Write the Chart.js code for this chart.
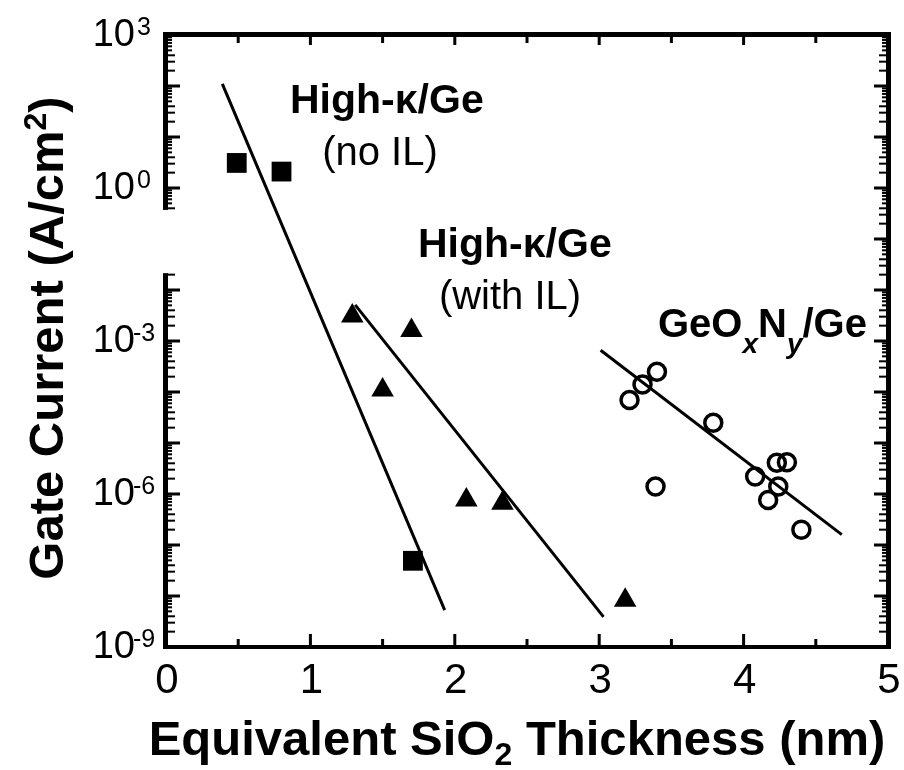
<!DOCTYPE html>
<html>
<head>
<meta charset="utf-8">
<script src="https://cdn.jsdelivr.net/npm/chart.js@4.4.0/dist/chart.umd.min.js"></script>
<style>
  html, body { margin: 0; padding: 0; background: #fff; }
  #wrap { width: 904px; height: 770px; }
</style>
</head>
<body>
<div id="wrap"><canvas id="chart" width="904" height="770"></canvas></div>
<script>
// measured data (x = EOT in nm, y = gate current in A/cm2)
var noIL_x = [0.49, 0.80, 1.71];
var noIL_y = [3.1, 2.1, 4.9e-8];
var withIL_x = [1.29, 1.50, 1.70, 2.08, 2.33, 3.18];
var withIL_y = [3.1e-3, 1.1e-4, 1.6e-3, 7.6e-7, 6.6e-7, 8.3e-9];
var geon_x = [3.21, 3.30, 3.40, 3.79, 3.39, 4.08, 4.23, 4.30, 4.24, 4.17, 4.40];
var geon_y = [7.0e-5, 1.4e-4, 2.5e-4, 2.5e-5, 1.4e-6, 2.2e-6, 4.1e-6, 4.2e-6, 1.4e-6, 7.6e-7, 2.0e-7];

// fitted lines, end points
var fitNoIL_x = [0.39, 1.93];
var fitNoIL_y = [110, 5.3e-9];
var fitWithIL_x = [1.31, 3.03];
var fitWithIL_y = [5.1e-3, 3.9e-9];
var fitGeon_x = [3.01, 4.68];
var fitGeon_y = [6.6e-4, 1.6e-7];

// ticks
var xTickLabels = ["0", "1", "2", "3", "4", "5"];
var xTicks = [0, 1, 2, 3, 4, 5];
var yTickExps = [3, 0, -3, -6, -9];

var FONT = '"Liberation Sans", Arial, Helvetica, sans-serif';

function pts(xs, ys) {
  return xs.map(function (x, i) { return { x: x, y: ys[i] }; });
}

function fitLine(xs, ys) {
  return {
    data: pts(xs, ys),
    showLine: true,
    borderColor: "#000",
    borderWidth: 3,
    pointRadius: 0,
    fill: false
  };
}

// draws runs of text with different fonts / baseline shifts
function runsWidth(ctx, runs) {
  var w = 0;
  runs.forEach(function (r) { ctx.font = r.font; w += ctx.measureText(r.t).width; });
  return w;
}
function drawRuns(ctx, runs, x, y) {
  runs.forEach(function (r) {
    ctx.font = r.font;
    ctx.fillText(r.t, x, y + (r.dy || 0));
    x += ctx.measureText(r.t).width;
  });
}

var framePlugin = {
  id: "frame",
  afterDraw: function (chart) {
    var ctx = chart.ctx;
    var a = chart.chartArea;
    var xs = chart.scales.x, ys = chart.scales.y;
    ctx.save();
    ctx.fillStyle = "#000";
    ctx.strokeStyle = "#000";

    // broken part of the left axis
    var gapTop = ys.getPixelForValue(Math.pow(10, -0.43));
    var gapBot = ys.getPixelForValue(Math.pow(10, -1.67));
    function inGap(py) { return py > gapTop - 1 && py < gapBot + 1; }

    // frame
    ctx.fillRect(a.left - 3, a.top - 2, 5, gapTop - a.top + 2);
    ctx.fillRect(a.left - 3, gapBot, 5, a.bottom - gapBot + 2);
    ctx.fillRect(a.right - 2, a.top - 2, 5, a.bottom - a.top + 4);
    ctx.fillRect(a.left - 3, a.top - 3, a.right - a.left + 6, 5);
    ctx.fillRect(a.left - 3, a.bottom - 2, a.right - a.left + 6, 4);

    // y ticks (inward)
    for (var e = -9; e <= 3; e++) {
      for (var m = 1; m <= 9; m++) {
        var v = m * Math.pow(10, e);
        if (v > 1e3 * 1.0001) continue;
        var py = ys.getPixelForValue(v);
        var len = m === 1 ? 14 : (m <= 4 ? 9 : 6);
        var lw = m === 1 ? 3 : 2;
        if (!inGap(py)) ctx.fillRect(a.left, py - lw / 2, len, lw);
        ctx.fillRect(a.right - len, py - lw / 2, len, lw);
      }
    }
    // x ticks (inward)
    for (var t = 0.5; t < 5; t += 0.5) {
      var px = xs.getPixelForValue(t);
      var major = Math.abs(t - Math.round(t)) < 1e-6;
      ctx.fillRect(px - 1.5, a.bottom - (major ? 13 : 8), 3, major ? 13 : 8);
      ctx.fillRect(px - 1.5, a.top, 3, major ? 10 : 8);
    }

    // x tick labels
    ctx.textAlign = "center";
    ctx.textBaseline = "alphabetic";
    ctx.font = "42px " + FONT;
    xTicks.forEach(function (t, i) {
      ctx.fillText(xTickLabels[i], xs.getPixelForValue(t) + 1, 693);
    });

    // y tick labels 10^n
    yTickExps.forEach(function (n) {
      var py = ys.getPixelForValue(Math.pow(10, n));
      ctx.textAlign = "right";
      ctx.textBaseline = "middle";
      ctx.font = "38px " + FONT;
      ctx.fillText("10", 135, py + 1);
      ctx.textAlign = "left";
      ctx.textBaseline = "alphabetic";
      ctx.font = "25px " + FONT;
      ctx.fillText(String(n), n < 0 ? 133 : 137, py);
    });

    ctx.textAlign = "left";
    ctx.textBaseline = "alphabetic";

    // x axis title
    var xt = [
      { t: "Equivalent SiO", font: "bold 49px " + FONT },
      { t: "2", font: "bold 32px " + FONT, dy: 10 },
      { t: " Thickness (nm)", font: "bold 49px " + FONT }
    ];
    var xw = runsWidth(ctx, xt);
    drawRuns(ctx, xt, 517 - xw / 2, 755);

    // y axis title
    var yt = [
      { t: "Gate Current (A/cm", font: "bold 49px " + FONT },
      { t: "2", font: "bold 32px " + FONT, dy: -17 },
      { t: ")", font: "bold 49px " + FONT }
    ];
    ctx.save();
    ctx.translate(63, 338);
    ctx.rotate(-Math.PI / 2);
    var yw = runsWidth(ctx, yt);
    drawRuns(ctx, yt, -yw / 2, 0);
    ctx.restore();

    // annotations
    ctx.font = "bold 41px " + FONT;
    ctx.fillText("High-\u03ba/Ge", 290, 113);
    ctx.fillText("High-\u03ba/Ge", 418, 257);
    ctx.textAlign = "center";
    ctx.font = "40px " + FONT;
    ctx.fillText("(no IL)", 380, 165);
    ctx.fillText("(with IL)", 510, 309);
    ctx.textAlign = "left";
    drawRuns(ctx, [
      { t: "GeO", font: "bold 40px " + FONT },
      { t: "x", font: "italic bold 28px " + FONT, dy: 16 },
      { t: "N", font: "bold 40px " + FONT },
      { t: "y", font: "italic bold 28px " + FONT, dy: 16 },
      { t: "/Ge", font: "bold 40px " + FONT }
    ], 658, 337);

    ctx.restore();
  }
};

new Chart(document.getElementById("chart"), {
  type: "scatter",
  data: {
    datasets: [
      {
        data: pts(noIL_x, noIL_y),
        pointStyle: "rect",
        pointRadius: 14,
        backgroundColor: "#000",
        borderColor: "#000",
        borderWidth: 0
      },
      {
        data: pts(withIL_x, withIL_y),
        pointStyle: "triangle",
        pointRadius: 13,
        backgroundColor: "#000",
        borderColor: "#000",
        borderWidth: 0
      },
      {
        data: pts(geon_x, geon_y),
        pointStyle: "circle",
        pointRadius: 8.5,
        backgroundColor: "rgba(0,0,0,0)",
        borderColor: "#000",
        borderWidth: 3.5
      },
      fitLine(fitNoIL_x, fitNoIL_y),
      fitLine(fitWithIL_x, fitWithIL_y),
      fitLine(fitGeon_x, fitGeon_y)
    ]
  },
  options: {
    responsive: false,
    devicePixelRatio: 1,
    animation: false,
    layout: { padding: { left: 166, right: 16, top: 35, bottom: 123 } },
    plugins: {
      legend: { display: false },
      tooltip: { enabled: false }
    },
    scales: {
      x: { type: "linear", min: 0, max: 5, display: false },
      y: { type: "logarithmic", min: 1e-9, max: 1e3, display: false }
    }
  },
  plugins: [framePlugin]
});
</script>
</body>
</html>
